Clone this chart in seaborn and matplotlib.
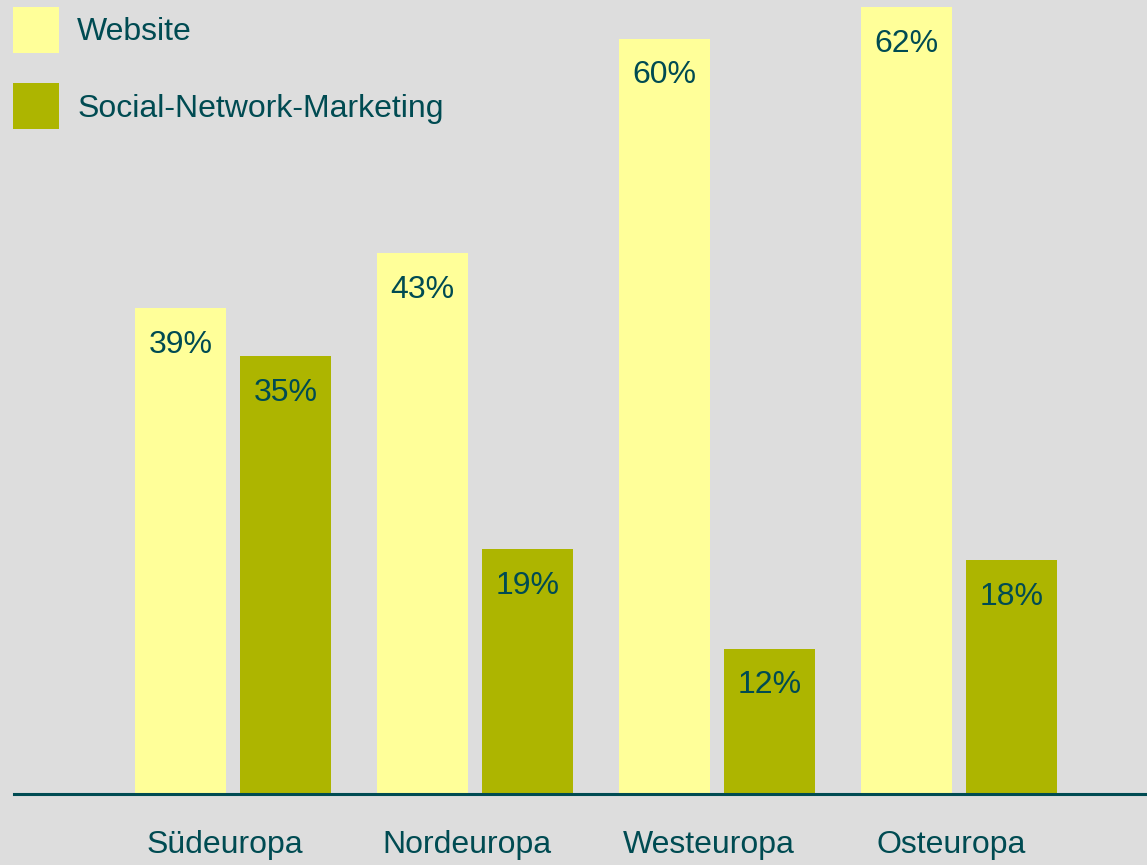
import matplotlib
matplotlib.use("Agg")
import matplotlib.pyplot as plt
import matplotlib.transforms as mtransforms
import seaborn as sns
import pandas as pd

regions = ["Südeuropa", "Nordeuropa", "Westeuropa", "Osteuropa"]
website = [38.5, 42.9, 59.9, 62.4]
social = [34.7, 19.4, 11.5, 18.5]
website_labels = ["39%", "43%", "60%", "62%"]
social_labels = ["35%", "19%", "12%", "18%"]
series_names = ["Website", "Social-Network-Marketing"]

bg = "#DDDDDD"
teal = "#004B52"
colors = ["#FFFF99", "#ADB500"]

df = pd.DataFrame({
    "region": regions * 2,
    "share": website + social,
    "kind": [series_names[0]] * len(regions) + [series_names[1]] * len(regions),
})

sns.set_theme(style="white")
plt.rcParams["font.family"] = ["Liberation Sans", "DejaVu Sans"]

fig = plt.figure(figsize=(11.47, 8.65), dpi=100, facecolor=bg)
ax = fig.add_axes([14 / 1147, (865 - 793.5) / 865, 1 - 14 / 1147, 793.5 / 865])
ax.set_facecolor(bg)

sns.barplot(data=df, x="region", y="share", hue="kind", order=regions,
            hue_order=series_names, palette=colors, width=0.868, gap=0.133,
            saturation=1, linewidth=0, ax=ax)

# percentage labels inside the top of every bar
for cont, labels in zip(ax.containers, [website_labels, social_labels]):
    for bar, lab in zip(cont, labels):
        h = bar.get_height()
        ax.annotate(lab, (bar.get_x() + bar.get_width() / 2, h),
                    xytext=(0, -15.5), textcoords="offset points",
                    ha="center", va="top", fontsize=23, color=teal)

ax.set_xlim(-0.905, 3.777)
ax.set_ylim(0, 62.98)
ax.set_xlabel("")
ax.set_ylabel("")
ax.set_yticks([])
ax.tick_params(axis="x", length=0, pad=26.5, labelsize=23, labelcolor=teal)
shift = mtransforms.ScaledTranslation(-8 / 100, 0, fig.dpi_scale_trans)
for lab in ax.get_xticklabels():
    lab.set_transform(lab.get_transform() + shift)
for s in ["top", "left", "right"]:
    ax.spines[s].set_visible(False)
ax.spines["bottom"].set_color(teal)
ax.spines["bottom"].set_linewidth(2.2)

sns.move_legend(ax, "upper left", bbox_to_anchor=(13 / 1147, 1 - 7 / 865),
                bbox_transform=fig.transFigure, title=None, frameon=False,
                fontsize=23, handlelength=1.44, handleheight=1.84,
                handletextpad=0.57, labelspacing=0.95, borderpad=0,
                borderaxespad=0, labelcolor=teal)

fig.savefig("out.png", dpi=100, facecolor=bg)
